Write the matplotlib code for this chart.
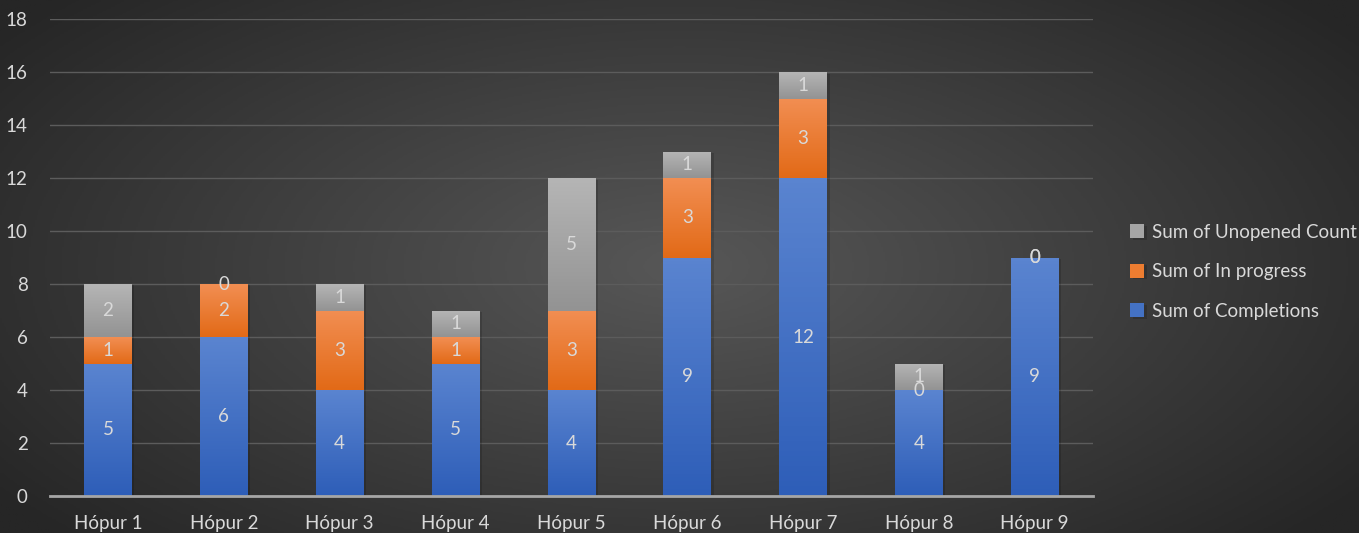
import numpy as np
import matplotlib
matplotlib.use("Agg")
import matplotlib.pyplot as plt
from matplotlib.colors import LinearSegmentedColormap
import matplotlib.patheffects as pe

plt.rcParams['font.family'] = ['Lato', 'DejaVu Sans']

groups = ['Hópur 1', 'Hópur 2', 'Hópur 3', 'Hópur 4', 'Hópur 5',
          'Hópur 6', 'Hópur 7', 'Hópur 8', 'Hópur 9']
completions = [5, 6, 4, 5, 4, 9, 12, 4, 9]
in_progress = [1, 2, 3, 1, 3, 3, 3, 0, 0]
unopened = [2, 0, 1, 1, 5, 1, 1, 1, 0]

txt = '#d9d9d9'

fig = plt.figure(figsize=(13.59, 5.33), dpi=100)

# radial dark background
bg = fig.add_axes([0, 0, 1, 1], zorder=-10)
yy, xx = np.mgrid[0:1:300j, 0:1:700j]
r = np.sqrt(((xx - 0.5) / 0.62) ** 2 + ((yy - 0.5) / 0.75) ** 2)
bg.imshow(np.clip(r, 0, 1), cmap=LinearSegmentedColormap.from_list('bg', ['#575757', '#262626']),
          extent=[0, 1, 0, 1], aspect='auto', vmin=0, vmax=1)
bg.axis('off')

ax = fig.add_axes([0.0368, 0.0694, 0.7672, 0.8946])
ax.patch.set_alpha(0)

x = np.arange(len(groups))
w = 0.41
b1 = ax.bar(x, completions, w, color='#4472c4', label='Sum of Completions', zorder=3)
bottom2 = np.array(completions)
b2 = ax.bar(x, in_progress, w, bottom=bottom2, color='#ed7d31', label='Sum of In progress', zorder=3)
bottom3 = bottom2 + np.array(in_progress)
b3 = ax.bar(x, unopened, w, bottom=bottom3, color='#a5a5a5', label='Sum of Unopened Count', zorder=3)

grads = [(b1, '#5a84d0', '#2e5eb8'), (b2, '#f28e52', '#e26a17'), (b3, '#b5b5b5', '#939393')]
for bars, top, bot in grads:
    cm = LinearSegmentedColormap.from_list('g', [bot, top])
    for p in bars:
        if p.get_height() == 0:
            continue
        p.set_path_effects([pe.SimplePatchShadow(offset=(2, -1), alpha=0.15, shadow_rgbFace='black'),
                            pe.Normal()])
        x0, y0 = p.get_x(), p.get_y()
        im = ax.imshow(np.linspace(0, 1, 64).reshape(-1, 1), cmap=cm, origin='lower',
                       extent=[x0, x0 + p.get_width(), y0, y0 + p.get_height()],
                       aspect='auto', zorder=3.5)
        im.set_clip_path(p)

for bars in (b1, b2, b3):
    ax.bar_label(bars, label_type='center', color=txt, fontsize=13.5, zorder=5)

ax.set_xlim(-0.5, len(groups) - 0.5)
ax.set_ylim(0, 18)
ax.set_yticks(range(0, 19, 2))
ax.set_xticks(x)
ax.set_xticklabels(groups)
ax.tick_params(colors=txt, labelsize=13.5, length=0)
ax.tick_params(axis='x', pad=14)
ax.tick_params(axis='y', pad=16)
for t in ax.get_yticklabels():
    t.set_color(txt)
for t in ax.get_xticklabels():
    t.set_color(txt)
ax.grid(axis='y', color='#5c5c5c', linewidth=1, zorder=0)
for s in ['top', 'right', 'left']:
    ax.spines[s].set_visible(False)
ax.spines['bottom'].set_color('#a6a6a6')
ax.spines['bottom'].set_linewidth(2)
ax.spines['bottom'].set_zorder(4)

h, l = ax.get_legend_handles_labels()
leg = fig.legend(h[::-1], l[::-1], loc='center left', bbox_to_anchor=(0.8315, 0.49),
                 frameon=False, fontsize=13.5, labelcolor=txt, handlelength=0.75,
                 handleheight=0.75, handletextpad=0.4, labelspacing=1.2,
                 borderpad=0, borderaxespad=0)

fig.savefig('out.png', dpi=100)
